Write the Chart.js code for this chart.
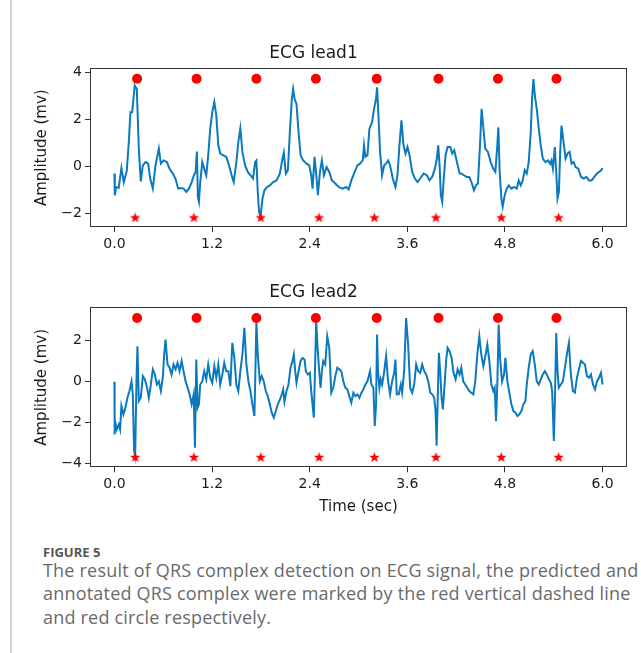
<!DOCTYPE html>
<html>
<head>
<meta charset="utf-8">
<script src="https://cdn.jsdelivr.net/npm/chart.js@4.4.1/dist/chart.umd.min.js"></script>
<style>
  body { margin: 0; background: #fff; }
  #wrap { position: relative; width: 641px; height: 653px; overflow: hidden; background: #fff; }
  #rule { position: absolute; left: 10px; top: 0; width: 2px; height: 653px; background: #d4d4d4; }
  canvas { position: absolute; left: 0; }
  .fig { position: absolute; left: 43px; top: 546px; font: bold 13px/13px "Open Sans", sans-serif; color: #555; white-space: nowrap; }
  .cap { position: absolute; left: 43px; top: 559px; font: 18px/23.3px "Open Sans", sans-serif; letter-spacing: 0.2px; color: #6a6a6a; white-space: nowrap; }
</style>
</head>
<body>
<div id="wrap">
  <div id="rule"></div>
  <canvas id="lead1" width="641" height="270" style="top:0"></canvas>
  <canvas id="lead2" width="641" height="270" style="top:250px"></canvas>
  <div class="fig">FIGURE 5</div>
  <div class="cap">The result of QRS complex detection on ECG signal, the predicted and<br>annotated QRS complex were marked by the red vertical dashed line<br>and red circle respectively.</div>
</div>
<script>
// ---- data ----
var lead1Time = [
  0.000,0.005,0.020,0.053,0.086,0.115,0.152,0.177,0.197,0.218,
  0.234,0.250,0.275,0.300,0.324,0.349,0.382,0.415,0.440,0.472,
  0.505,0.546,0.571,0.604,0.645,0.678,0.720,0.750,0.784,0.817,
  0.850,0.883,0.916,0.950,0.978,0.998,1.014,1.026,1.039,1.055,
  1.080,1.104,1.129,1.153,1.178,1.203,1.228,1.252,1.277,1.301,
  1.334,1.376,1.408,1.441,1.466,1.499,1.523,1.548,1.573,1.606,
  1.639,1.671,1.704,1.729,1.745,1.762,1.778,1.795,1.820,1.844,
  1.877,1.910,1.951,1.992,2.033,2.066,2.082,2.107,2.132,2.156,
  2.181,2.197,2.214,2.238,2.263,2.288,2.320,2.361,2.394,2.419,
  2.435,2.460,2.485,2.501,2.526,2.550,2.575,2.608,2.640,2.673,
  2.715,2.756,2.805,2.846,2.879,2.912,2.945,2.986,3.019,3.052,
  3.068,3.085,3.110,3.134,3.167,3.191,3.216,3.228,3.245,3.265,
  3.290,3.315,3.339,3.364,3.388,3.421,3.454,3.479,3.503,3.528,
  3.553,3.578,3.602,3.627,3.660,3.693,3.726,3.758,3.800,3.840,
  3.873,3.906,3.939,3.963,3.980,3.996,4.012,4.029,4.045,4.070,
  4.095,4.128,4.152,4.177,4.210,4.243,4.263,4.296,4.329,4.362,
  4.394,4.419,4.444,4.468,4.493,4.513,4.534,4.558,4.591,4.624,
  4.657,4.682,4.706,4.719,4.735,4.756,4.772,4.797,4.821,4.846,
  4.879,4.912,4.945,4.969,4.994,5.018,5.043,5.068,5.092,5.117,
  5.133,5.150,5.167,5.191,5.216,5.240,5.265,5.298,5.331,5.356,
  5.372,5.389,5.413,5.430,5.446,5.463,5.479,5.495,5.520,5.545,
  5.569,5.594,5.619,5.643,5.668,5.701,5.734,5.767,5.800,5.833,
  5.865,5.898,5.931,5.956,5.980,6.000
];
var lead1Amp = [
  -0.31,-1.23,-0.88,-0.92,-0.07,-0.68,-0.19,1.03,2.30,2.30,
  2.87,3.43,3.29,0.75,-0.64,0.04,0.18,0.11,-0.52,-0.95,
  0.04,0.75,0.11,0.25,0.18,-0.11,-0.32,-0.52,-0.95,-0.92,
  -0.95,-1.09,-0.95,-0.67,-0.38,-0.24,0.63,-1.30,-1.51,-0.67,
  0.18,-0.11,-0.38,0.47,1.61,2.30,2.73,2.16,0.89,0.54,
  0.47,0.40,0.04,-0.38,-0.67,0.18,1.03,1.61,0.61,0.04,
  -0.24,-0.38,-0.52,0.18,0.25,-1.09,-1.94,-2.15,-1.37,-1.02,
  -0.88,-0.81,-0.67,-0.60,-0.31,0.33,0.58,-0.31,-0.17,1.45,
  2.87,3.29,2.87,2.65,1.45,0.47,0.25,0.11,0.04,-0.38,
  -0.95,0.40,-0.52,-1.23,-0.24,0.25,-0.38,-0.03,-0.24,-0.60,
  -0.73,-0.88,-0.95,-0.88,-0.98,-0.60,-0.31,0.04,0.11,0.25,
  0.89,0.40,0.47,1.59,1.88,2.44,2.87,3.36,2.16,0.61,
  -0.38,0.04,0.11,0.25,0.04,-0.52,-0.88,-0.38,0.89,1.95,
  0.89,0.54,0.82,0.47,-0.24,-0.52,-0.67,-0.52,-0.31,-0.38,
  -0.60,-0.45,-0.10,0.33,0.89,0.04,-1.23,-1.51,-0.67,0.47,
  0.82,0.82,0.54,0.68,0.18,-0.31,-0.31,-0.38,-0.45,-0.45,
  -0.73,-1.02,-0.81,-0.73,0.89,2.44,1.66,0.75,0.61,0.18,
  -0.11,-0.24,0.89,1.66,-0.24,-1.37,-1.72,-1.23,-0.95,-0.81,
  -0.95,-0.88,-0.95,-0.60,-0.81,-0.60,-0.17,-0.31,0.18,1.45,
  2.87,3.71,3.01,2.44,1.59,0.89,0.33,0.18,0.25,0.11,
  0.25,-0.11,0.82,-0.24,-1.37,-1.09,0.61,1.73,1.03,0.33,
  0.54,0.61,0.11,0.18,-0.03,-0.10,-0.45,-0.52,-0.45,-0.60,
  -0.60,-0.45,-0.31,-0.24,-0.18,-0.08
];
var lead2Time = [
  0.000,0.003,0.012,0.029,0.053,0.070,0.086,0.111,0.136,0.160,
  0.185,0.210,0.226,0.242,0.255,0.271,0.283,0.300,0.324,0.349,
  0.374,0.398,0.423,0.448,0.472,0.497,0.522,0.546,0.571,0.596,
  0.612,0.628,0.653,0.678,0.702,0.727,0.752,0.776,0.801,0.826,
  0.850,0.875,0.900,0.924,0.949,0.974,0.990,1.006,1.023,1.039,
  1.055,1.080,1.104,1.129,1.153,1.178,1.203,1.228,1.252,1.277,
  1.301,1.326,1.350,1.375,1.400,1.425,1.449,1.474,1.499,1.523,
  1.548,1.573,1.597,1.622,1.647,1.672,1.696,1.721,1.733,1.745,
  1.762,1.787,1.811,1.836,1.860,1.885,1.910,1.934,1.959,1.984,
  2.008,2.033,2.058,2.074,2.090,2.115,2.140,2.164,2.189,2.205,
  2.222,2.238,2.263,2.288,2.312,2.337,2.353,2.378,2.402,2.419,
  2.435,2.451,2.468,2.480,2.497,2.517,2.534,2.550,2.567,2.591,
  2.616,2.641,2.665,2.690,2.715,2.740,2.764,2.789,2.814,2.838,
  2.863,2.887,2.912,2.937,2.962,2.986,3.011,3.036,3.060,3.085,
  3.110,3.126,3.142,3.158,3.183,3.200,3.216,3.228,3.240,3.257,
  3.273,3.290,3.314,3.339,3.364,3.388,3.413,3.438,3.454,3.470,
  3.495,3.520,3.536,3.561,3.585,3.610,3.635,3.660,3.684,3.709,
  3.734,3.758,3.783,3.808,3.832,3.857,3.882,3.906,3.931,3.947,
  3.960,3.972,3.988,4.004,4.021,4.037,4.053,4.078,4.095,4.119,
  4.144,4.168,4.193,4.218,4.242,4.263,4.287,4.312,4.337,4.362,
  4.386,4.411,4.435,4.460,4.485,4.509,4.534,4.559,4.583,4.608,
  4.633,4.657,4.674,4.690,4.707,4.723,4.740,4.764,4.789,4.805,
  4.830,4.854,4.879,4.904,4.928,4.953,4.977,5.002,5.027,5.051,
  5.068,5.092,5.117,5.142,5.166,5.191,5.216,5.240,5.265,5.290,
  5.314,5.339,5.364,5.380,5.401,5.413,5.430,5.446,5.462,5.487,
  5.512,5.537,5.561,5.586,5.610,5.635,5.660,5.685,5.709,5.734,
  5.759,5.783,5.808,5.833,5.857,5.882,5.907,5.931,5.956,5.980,
  6.000
];
var lead2Amp = [
  -0.02,-2.59,-2.02,-2.35,-2.10,-2.35,-1.20,-1.61,-1.28,-0.80,
  -0.47,0.00,-0.63,-3.40,-3.64,0.00,1.72,-0.96,-0.80,0.26,
  0.10,-0.23,-0.80,-0.15,0.59,0.34,-0.15,0.00,-0.47,0.26,
  1.32,2.05,0.83,0.67,0.34,0.83,0.59,0.91,0.50,1.00,
  0.50,0.00,-0.31,-0.63,-1.12,-0.63,-3.24,1.07,-1.28,-1.12,
  -0.15,0.00,0.50,0.10,0.83,0.18,-0.07,0.75,0.18,0.83,
  -0.15,0.34,0.91,0.50,0.50,-0.23,1.89,1.15,-0.15,-0.47,
  0.50,1.32,2.62,0.83,0.00,-0.47,-1.12,-1.69,0.50,2.94,
  1.32,0.00,0.26,0.00,-0.47,-0.72,-1.12,-1.53,-1.77,-1.45,
  -1.12,-0.90,-0.63,-0.39,-1.00,-0.47,-0.15,0.67,1.00,1.32,
  0.50,-0.07,0.50,1.00,1.15,1.07,0.50,0.34,0.42,-0.47,
  -1.12,-1.77,1.00,2.94,1.64,0.50,-0.31,0.50,1.00,0.83,
  2.21,1.64,-0.55,-0.31,0.26,0.67,0.59,0.50,0.00,-0.31,
  -0.39,-0.72,-1.04,-0.55,-0.72,-0.63,-0.80,-0.55,-0.39,-0.15,
  0.00,0.26,0.50,-0.15,-0.31,-2.18,-1.12,2.29,0.50,-0.31,
  0.10,-0.15,0.42,1.24,0.00,-0.63,0.00,0.42,1.07,-0.63,
  -0.63,-0.15,-0.55,0.50,3.10,1.80,-0.31,-0.55,-0.15,0.83,
  0.50,0.42,0.83,0.50,0.34,0.00,-0.55,-0.63,-0.80,-1.45,
  -3.15,-1.12,1.40,0.50,-0.80,-1.37,-0.47,1.07,1.64,1.48,
  1.15,0.42,0.10,0.59,0.34,0.67,0.00,-0.15,-0.31,-0.47,
  -0.55,-0.63,0.00,1.32,2.21,1.32,0.75,1.24,1.80,1.00,
  -0.15,-0.47,-0.31,-1.95,0.00,2.78,1.15,0.00,0.34,1.15,
  0.00,-0.55,-1.12,-1.45,-1.53,-1.69,-1.61,-1.45,-1.12,-0.96,
  -0.15,0.67,1.32,1.48,0.83,0.00,-0.15,0.10,0.34,0.50,
  0.34,0.10,-0.07,-0.47,-2.91,-1.12,2.37,0.50,-0.31,-0.15,
  0.00,0.67,1.32,1.89,0.34,-0.47,-0.55,0.18,0.59,1.00,
  0.91,0.83,0.26,0.18,0.34,-0.15,-0.39,0.00,0.18,0.42,
  -0.15
];

// annotated (circles) and predicted (stars) QRS times, seconds
var annotatedQRS = [0.279, 1.010, 1.745, 2.476, 3.224, 3.983, 4.714, 5.433];
var predictedQRS = [0.255, 0.977, 1.799, 2.515, 3.195, 3.951, 4.755, 5.460];
// marker rows drawn at a fixed amplitude in each panel
var lead1Marks = { circle: 3.72, star: -2.19 };
var lead2Marks = { circle: 3.10, star: -3.72 };

var xTicks = [0.0, 1.2, 2.4, 3.6, 4.8, 6.0];
var lead1YTicks = [-2, 0, 2, 4];
var lead2YTicks = [-4, -2, 0, 2];

// ---- drawing ----
var FONT = "'DejaVu Sans', sans-serif";
var BLUE = '#0a79be';

function starImage(r) {
  var c = document.createElement('canvas');
  c.width = c.height = Math.ceil(r * 2) + 2;
  var ctx = c.getContext('2d');
  var cx = c.width / 2, cy = c.height / 2;
  ctx.beginPath();
  for (var i = 0; i < 10; i++) {
    var rr = i % 2 === 0 ? r : r * 0.42;
    var a = -Math.PI / 2 + i * Math.PI / 5;
    ctx.lineTo(cx + rr * Math.cos(a), cy + rr * Math.sin(a));
  }
  ctx.closePath();
  ctx.fillStyle = '#ff0000';
  ctx.fill();
  return c;
}
var star = starImage(5.5);

var frame = {
  id: 'frame',
  afterDraw: function(chart) {
    var a = chart.chartArea, ctx = chart.ctx;
    ctx.save();
    ctx.strokeStyle = '#333';
    ctx.lineWidth = 1;
    ctx.strokeRect(Math.round(a.left) + 0.5, Math.round(a.top) + 0.5,
                   Math.round(a.right - a.left) - 1, Math.round(a.bottom - a.top) - 1);
    ctx.restore();
  }
};

function fmtY(v) { return v < 0 ? '\u2212' + Math.abs(v) : String(v); }

function drawLead(id, title, time, amp, marks, yMin, yMax, yTicks, L) {
  var signal = time.map(function(t, i) { return { x: t, y: amp[i] }; });
  var circles = annotatedQRS.map(function(t) { return { x: t, y: marks.circle }; });
  var stars = predictedQRS.map(function(t) { return { x: t, y: marks.star }; });

  return new Chart(document.getElementById(id), {
    type: 'scatter',
    data: {
      datasets: [
        { data: circles, pointStyle: 'circle', pointRadius: 5, backgroundColor: '#ff0000', borderWidth: 0 },
        { data: stars, pointStyle: star, pointRadius: 6 },
        { data: signal, showLine: true, borderColor: BLUE, borderWidth: 2, pointRadius: 0, tension: 0 }
      ]
    },
    options: {
      responsive: false,
      animation: false,
      events: [],
      layout: { padding: { left: 0, right: 14, top: 0, bottom: 0 } },
      plugins: {
        legend: { display: false },
        tooltip: { enabled: false },
        title: {
          display: true, text: title, color: '#1a1a1a',
          font: { family: FONT, size: 17, weight: 'normal' },
          padding: { top: L.titleTop, bottom: L.titleBottom }
        }
      },
      scales: {
        x: {
          type: 'linear', min: -0.3, max: 6.3,
          afterBuildTicks: function(s) { s.ticks = xTicks.map(function(v) { return { value: v }; }); },
          afterFit: function(s) { s.height = L.xHeight; },
          ticks: { color: '#1a1a1a', font: { family: FONT, size: 14 }, padding: 4,
                   callback: function(v) { return v.toFixed(1); } },
          grid: { drawOnChartArea: false, drawTicks: true, tickLength: 5, color: '#333' },
          border: { display: false },
          title: L.xTitle ? { display: true, text: L.xTitle, color: '#1a1a1a',
                              font: { family: FONT, size: 15 }, padding: { top: 0, bottom: 4 } } : { display: false }
        },
        y: {
          min: yMin, max: yMax,
          afterBuildTicks: function(s) { s.ticks = yTicks.map(function(v) { return { value: v }; }); },
          afterFit: function(s) { s.width = 90; },
          ticks: { color: '#1a1a1a', font: { family: FONT, size: 14 }, padding: 3, callback: fmtY },
          grid: { drawOnChartArea: false, drawTicks: true, tickLength: 5, color: '#333' },
          border: { display: false },
          title: { display: true, text: 'Amplitude (mv)', color: '#1a1a1a',
                   font: { family: FONT, size: 15 }, padding: { top: 33, bottom: 0 } }
        }
      }
    },
    plugins: [frame]
  });
}

drawLead('lead1', 'ECG lead1', lead1Time, lead1Amp, lead1Marks, -2.58, 4.16, lead1YTicks,
         { titleTop: 43, titleBottom: 5, xHeight: 43 });
drawLead('lead2', 'ECG lead2', lead2Time, lead2Amp, lead2Marks, -4.2, 3.62, lead2YTicks,
         { titleTop: 32, titleBottom: 5, xHeight: 52.7, xTitle: 'Time (sec)' });
</script>
</body>
</html>
